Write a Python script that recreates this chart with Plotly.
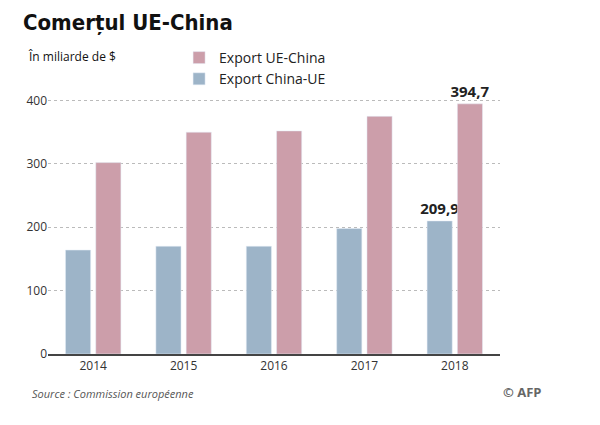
import plotly.graph_objects as go

years = ["2014", "2015", "2016", "2017", "2018"]
export_china_ue = [164, 170, 170, 198, 209.9]
export_ue_china = [302, 350, 352, 375, 394.7]
labels_china_ue = ["", "", "", "", "209,9"]
labels_ue_china = ["", "", "", "", "394,7"]

blue = "#9db4c8"
pink = "#cc9eaa"
label_font = dict(size=15, color="#222", family="Open Sans", weight="bold")

fig = go.Figure()
fig.add_trace(go.Bar(x=years, y=export_china_ue, name="Export China-UE", marker_color=blue,
                     text=labels_china_ue, textposition="outside", cliponaxis=False,
                     constraintext="none", textfont=label_font))
fig.add_trace(go.Bar(x=years, y=export_ue_china, name="Export UE-China", marker_color=pink,
                     text=labels_ue_china, textposition="outside", cliponaxis=False,
                     constraintext="none", textfont=label_font))

fig.update_layout(
    width=600, height=425,
    margin=dict(l=40, r=108, t=83, b=79, autoexpand=False),
    paper_bgcolor="white", plot_bgcolor="white",
    barmode="group", bargap=0.33, bargroupgap=0.17,
    font=dict(family="Open Sans", color="#333", size=12),
    legend=dict(x=0.29, y=0.92, yref="container", xanchor="left", yanchor="top", traceorder="reversed",
                font=dict(size=14, color="#222"), bgcolor="rgba(0,0,0,0)", itemwidth=30),
    title=dict(text="<b>Comerțul UE-China</b>", x=0.025, y=0.985, xanchor="left", yanchor="top",
               font=dict(family="DejaVu Sans Condensed", size=22, color="#111")),
)
fig.update_yaxes(range=[0, 415], tickvals=[0, 100, 200, 300, 400], showgrid=True,
                 gridcolor="#bbb", griddash="dot", zeroline=False, ticks="", tickfont=dict(size=12))
fig.update_xaxes(showline=True, linecolor="#444", linewidth=2, ticks="", tickfont=dict(size=12))

fig.add_annotation(text="În miliarde de $", x=-0.049, y=1.133, xref="paper", yref="paper",
                   xanchor="left", yanchor="middle", showarrow=False, font=dict(size=12, color="#111"))
fig.add_annotation(text="<i>Source : Commission européenne</i>", x=-0.04, y=-0.152, xref="paper", yref="paper",
                   xanchor="left", yanchor="middle", showarrow=False, font=dict(size=11, color="#555"))
fig.add_annotation(text="<b>© AFP</b>", x=1.095, y=-0.145, xref="paper", yref="paper",
                   xanchor="right", yanchor="middle", showarrow=False, font=dict(size=13, color="#666"))

fig.write_html("out.html")
